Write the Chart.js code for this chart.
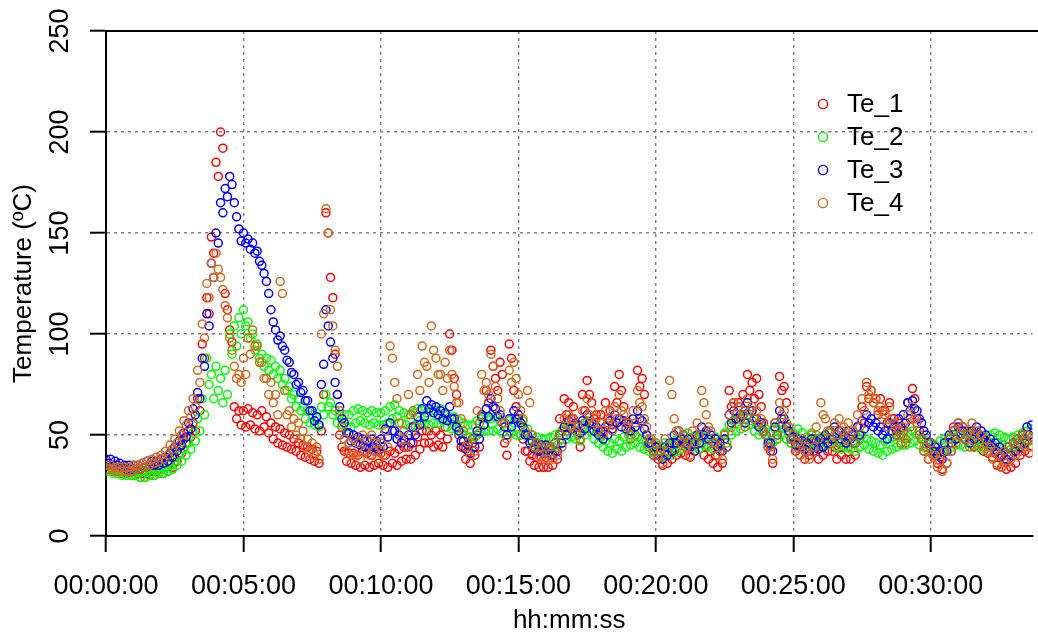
<!DOCTYPE html>
<html>
<head>
<meta charset="utf-8">
<script src="https://cdn.jsdelivr.net/npm/chart.js@4.4.1/dist/chart.umd.min.js"></script>
<style>
  html, body { margin: 0; padding: 0; background: #ffffff; }
  #wrap { width: 1038px; height: 637px; position: relative; }
</style>
</head>
<body>
<div id="wrap"><canvas id="chart" width="1038" height="637"></canvas></div>
<script>
// Thermocouple readings, one value every 5 s (one row per minute)
const sampleStep = 5;
const seriesNames = ['Te_1', 'Te_2', 'Te_3', 'Te_4'];
const seriesColors = ['#FF0000', '#00FF00', '#0000FF', '#D2691E'];
const xTickSeconds = [0, 300, 600, 900, 1200, 1500, 1800];
const yTickValues = [0, 50, 100, 150, 200, 250];

const te1 = [
  35,33,34,32,34,32,33,31,33,31,32,30,
  32,30,31,29,31,29,31,30,32,30,32,31,
  33,31,34,32,36,34,39,37,44,41,48,46,
  52,49,56,52,68,62,95,88,118,110,148,140,
  185,178,200,192,120,112,102,96,64,58,62,55,
  62,54,63,55,61,53,60,52,62,54,59,51,
  56,48,54,46,53,45,51,44,50,43,48,42,
  46,40,45,39,44,38,43,37,42,36,52,70,
  160,150,128,118,90,70,50,44,42,37,41,36,
  41,35,40,34,42,35,41,34,40,35,42,36,
  41,35,40,34,42,36,41,35,43,37,44,38,
  44,38,46,40,49,43,52,46,52,46,50,44,
  52,45,50,44,54,48,100,92,78,70,50,44,
  44,38,42,36,46,40,50,44,60,55,72,66,
  92,84,78,72,86,80,46,40,95,88,72,64,
  58,50,48,42,42,37,40,35,39,34,39,34,
  39,34,40,35,42,38,58,52,68,60,66,58,
  64,56,50,44,70,62,77,70,66,58,60,52,
  60,52,66,58,62,55,74,66,80,72,64,56,
  56,48,58,50,82,74,78,70,50,44,46,40,
  44,38,41,35,42,36,44,38,46,40,47,41,
  46,40,45,39,48,42,49,43,46,40,44,38,
  42,36,40,34,42,36,50,44,72,64,66,58,
  66,58,70,62,80,72,76,68,78,70,64,56,
  50,44,42,36,56,48,79,72,74,66,52,46,
  48,42,46,40,44,38,46,40,48,42,44,38,
  46,40,48,42,48,42,44,38,46,40,44,38,
  44,38,46,40,54,48,64,56,74,68,72,66,
  68,60,68,62,62,56,66,58,58,52,56,50,
  52,46,66,58,73,68,58,52,48,42,44,38,
  46,40,42,36,39,33,42,36,48,42,54,48,
  56,50,54,48,52,46,50,44,50,44,48,42,
  47,41,45,39,41,35,39,34,38,33,40,34,
  42,36,46,40,48,42,47,41,49
];
const te2 = [
  35,32,34,31,34,31,33,30,33,30,33,30,
  33,30,32,29,32,29,32,30,33,30,33,31,
  33,31,34,32,35,33,37,35,40,37,43,40,
  46,43,51,47,58,52,68,60,88,75,80,68,
  84,72,78,66,82,70,100,90,104,94,108,100,
  112,104,106,98,100,92,95,88,90,84,88,82,
  87,80,84,78,82,75,78,72,74,68,70,64,
  68,62,64,58,62,56,60,55,59,54,64,60,
  70,64,66,60,62,56,60,55,60,54,60,54,
  62,56,63,57,62,56,61,55,62,56,61,55,
  61,55,62,56,64,58,65,59,62,56,61,55,
  60,54,61,55,63,57,62,56,61,55,62,56,
  62,56,63,57,60,54,59,53,59,53,57,51,
  56,50,55,49,55,49,57,51,58,52,58,52,
  58,52,59,53,57,51,56,50,57,51,56,50,
  56,50,57,51,53,47,50,45,49,44,48,43,
  48,43,49,44,50,45,51,46,53,48,54,49,
  53,48,52,47,55,50,57,52,53,48,51,46,
  49,44,47,42,46,41,48,43,47,42,49,44,
  50,45,51,46,49,44,48,43,47,42,46,41,
  45,40,44,39,46,41,45,40,47,42,48,43,
  50,45,51,46,49,44,48,43,50,45,49,44,
  48,43,49,44,47,42,51,46,55,50,57,52,
  58,53,59,54,60,55,57,52,55,50,56,51,
  53,48,51,46,53,48,55,50,53,48,51,46,
  51,46,53,48,51,46,49,44,51,46,50,45,
  49,44,50,45,51,46,49,44,48,43,49,44,
  48,43,47,42,49,44,50,45,48,43,47,42,
  46,41,45,40,47,42,48,43,49,44,50,45,
  50,45,51,46,52,47,50,45,49,44,47,42,
  46,41,45,40,47,42,48,43,49,44,50,45,
  50,45,49,44,51,46,50,45,49,44,48,43,
  49,44,50,45,51,46,50,45,49,44,48,43,
  49,44,50,45,51,46,52,47,53
];
const te3 = [
  38,36,38,35,37,35,36,34,35,33,35,33,
  35,33,35,33,36,34,37,35,37,35,37,35,
  38,36,39,37,41,39,44,42,47,45,51,49,
  56,53,63,60,71,68,88,84,110,104,135,128,
  150,145,165,160,172,168,178,174,165,158,152,146,
  150,145,147,142,145,140,141,136,134,130,126,120,
  112,106,102,97,99,94,92,87,86,81,80,75,
  76,71,72,67,67,62,62,57,59,55,75,85,
  112,104,96,88,76,70,64,58,56,51,51,47,
  50,46,49,45,48,44,47,43,48,44,47,43,
  48,44,53,49,56,52,52,48,50,46,48,44,
  50,46,54,50,59,55,63,59,67,63,65,61,
  64,60,62,58,61,57,64,58,58,54,52,47,
  47,43,45,41,48,44,52,48,59,55,63,59,
  68,64,63,59,60,56,54,50,58,54,62,58,
  60,56,54,50,50,46,47,43,46,42,45,41,
  45,41,44,40,46,42,50,46,54,50,57,53,
  58,54,55,51,57,53,60,56,56,52,54,50,
  52,48,54,50,57,53,60,56,58,54,57,53,
  56,52,58,54,62,58,57,53,50,46,46,42,
  44,40,42,38,44,40,46,42,50,46,52,48,
  50,46,48,44,46,42,50,46,54,50,52,48,
  50,46,48,44,46,42,48,44,60,56,62,58,
  64,60,60,56,66,62,62,58,58,54,56,52,
  50,46,46,42,54,50,62,58,58,54,52,48,
  49,45,48,44,47,43,46,42,48,44,47,43,
  48,44,50,46,52,48,54,50,52,48,50,46,
  52,48,50,46,54,50,57,53,60,56,58,54,
  56,52,54,50,52,48,56,52,54,50,58,54,
  60,56,66,62,67,63,62,58,56,52,50,46,
  46,42,44,40,42,38,46,42,50,46,52,48,
  54,50,52,48,50,46,52,48,54,50,52,48,
  50,46,48,44,46,42,44,40,42,38,44,40,
  46,42,48,44,50,46,54,50,55
];
const te4 = [
  35,33,35,33,34,32,34,32,34,32,34,32,
  35,33,35,33,36,34,37,35,38,36,39,37,
  40,38,42,40,45,43,48,46,52,50,57,55,
  62,59,68,64,82,76,105,98,125,118,135,128,
  140,132,128,122,114,108,98,92,84,78,80,76,
  88,80,98,90,102,94,94,86,86,78,78,70,
  76,66,70,60,126,120,72,60,62,54,58,50,
  56,48,52,44,48,42,46,40,44,38,100,110,
  162,150,112,104,92,84,62,54,48,42,46,40,
  48,40,46,38,50,42,48,40,50,42,46,38,
  46,40,52,44,94,88,76,68,56,48,52,44,
  70,60,62,54,80,72,94,86,84,76,104,92,
  88,80,80,72,86,78,92,80,74,66,66,58,
  52,44,46,40,48,42,62,56,80,72,76,70,
  90,84,74,68,62,56,56,48,82,76,86,78,
  70,62,58,52,72,66,50,44,46,40,44,38,
  44,38,44,38,46,40,50,44,58,52,60,54,
  58,52,54,48,62,56,68,60,62,56,58,52,
  56,50,62,56,58,52,64,58,70,62,60,54,
  56,50,62,56,72,66,64,58,54,48,48,42,
  46,40,42,36,48,42,77,70,58,52,52,46,
  50,44,46,40,52,46,56,50,72,66,60,54,
  52,46,46,40,44,38,50,44,60,54,66,60,
  64,58,60,54,68,62,64,58,62,56,58,52,
  50,44,44,38,56,50,66,60,62,56,54,48,
  50,44,46,40,48,42,44,38,50,44,54,48,
  66,60,58,52,52,46,56,50,58,52,54,48,
  56,50,52,46,60,54,68,62,76,70,72,66,
  68,62,64,58,60,54,64,58,56,50,52,46,
  54,48,60,54,64,58,56,50,48,42,44,38,
  46,40,40,34,37,32,42,36,48,42,52,46,
  56,50,54,48,50,44,56,50,52,46,50,44,
  48,42,44,38,42,36,40,34,42,36,44,38,
  46,40,48,42,50,44,50,44,49
];

const seriesValues = [te1, te2, te3, te4];
const FONT = '"Liberation Sans", Arial, sans-serif';

function hms(sec) {
  const h = Math.floor(sec / 3600), m = Math.floor((sec % 3600) / 60), s = sec % 60;
  return [h, m, s].map(n => String(n).padStart(2, '0')).join(':');
}

const datasets = seriesValues.map((vals, k) => ({
  label: seriesNames[k],
  data: vals.map((v, i) => ({ x: i * sampleStep, y: v })),
  borderColor: seriesColors[k],
  backgroundColor: 'rgba(0,0,0,0)',
  pointStyle: 'circle',
  pointRadius: 4,
  pointBorderWidth: 1.5,
  pointHoverRadius: 4,
  order: 4 - k            // later series drawn on top
}));

// rotated y tick labels, legend and the top edge of the frame
const decorations = {
  id: 'decorations',
  afterDraw(chart) {
    const { ctx, chartArea } = chart;
    const yScale = chart.scales.y;
    ctx.save();
    ctx.strokeStyle = '#000';
    ctx.lineWidth = 2;
    ctx.beginPath();
    ctx.moveTo(chartArea.left - 1, chartArea.top);
    ctx.lineTo(chart.width, chartArea.top);
    ctx.stroke();

    ctx.fillStyle = '#000';
    ctx.font = '27px ' + FONT;
    ctx.textAlign = 'center';
    ctx.textBaseline = 'alphabetic';
    yTickValues.forEach(v => {
      const py = yScale.getPixelForValue(v);
      ctx.save();
      ctx.translate(68, py);
      ctx.rotate(-Math.PI / 2);
      ctx.fillText(String(v), 0, 0);
      ctx.restore();
    });

    const legendX = 823, legendY0 = 104, legendGap = 33;
    ctx.font = '26px ' + FONT;
    ctx.textAlign = 'left';
    ctx.textBaseline = 'middle';
    seriesNames.forEach((name, k) => {
      const ly = legendY0 + k * legendGap;
      ctx.strokeStyle = seriesColors[k];
      ctx.lineWidth = 1.4;
      ctx.beginPath();
      ctx.arc(legendX, ly, 4.6, 0, Math.PI * 2);
      ctx.stroke();
      ctx.fillStyle = '#000';
      ctx.fillText(name, 847, ly + 1);
    });
    ctx.restore();
  }
};

const gridColor = '#808080';

new Chart(document.getElementById('chart'), {
  type: 'scatter',
  data: { datasets },
  options: {
    responsive: false,
    animation: false,
    devicePixelRatio: 1,
    layout: { padding: { top: 31, left: 0, right: 0, bottom: 0 } },
    plugins: { legend: { display: false }, tooltip: { enabled: false } },
    scales: {
      x: {
        type: 'linear',
        min: 0,
        max: 2022,
        z: 1,
        afterFit(scale) { scale.height = 101; },
        afterBuildTicks(scale) { scale.ticks = xTickSeconds.map(v => ({ value: v })); },
        ticks: {
          autoSkip: false,
          maxRotation: 0,
          minRotation: 0,
          padding: 18,
          color: '#000',
          font: { family: FONT, size: 27 },
          callback: v => hms(v)
        },
        grid: {
          color: c => (c.tick && c.tick.value === 0) ? 'rgba(0,0,0,0)' : gridColor,
          lineWidth: 1.4,
          tickColor: '#000',
          tickWidth: 2,
          tickLength: 16,
          tickBorderDash: []
        },
        border: { display: true, color: '#000', width: 2, dash: [3, 4] },
        title: {
          display: true,
          text: 'hh:mm:ss',
          color: '#000',
          font: { family: FONT, size: 26 },
          padding: { top: 0, bottom: 1 }
        }
      },
      y: {
        type: 'linear',
        min: 0,
        max: 250,
        z: 1,
        afterFit(scale) { scale.width = 106; },
        afterBuildTicks(scale) { scale.ticks = yTickValues.map(v => ({ value: v })); },
        ticks: { display: false },
        grid: {
          color: c => (c.tick && (c.tick.value === 0 || c.tick.value === 250)) ? 'rgba(0,0,0,0)' : gridColor,
          lineWidth: 1.4,
          tickColor: '#000',
          tickWidth: 2,
          tickLength: 16,
          tickBorderDash: []
        },
        border: { display: true, color: '#000', width: 2, dash: [3, 4] },
        title: {
          display: true,
          text: 'Temperature (ºC)',
          color: '#000',
          font: { family: FONT, size: 26 },
          padding: { top: 8, bottom: 0 }
        }
      }
    }
  },
  plugins: [decorations]
});
</script>
</body>
</html>
